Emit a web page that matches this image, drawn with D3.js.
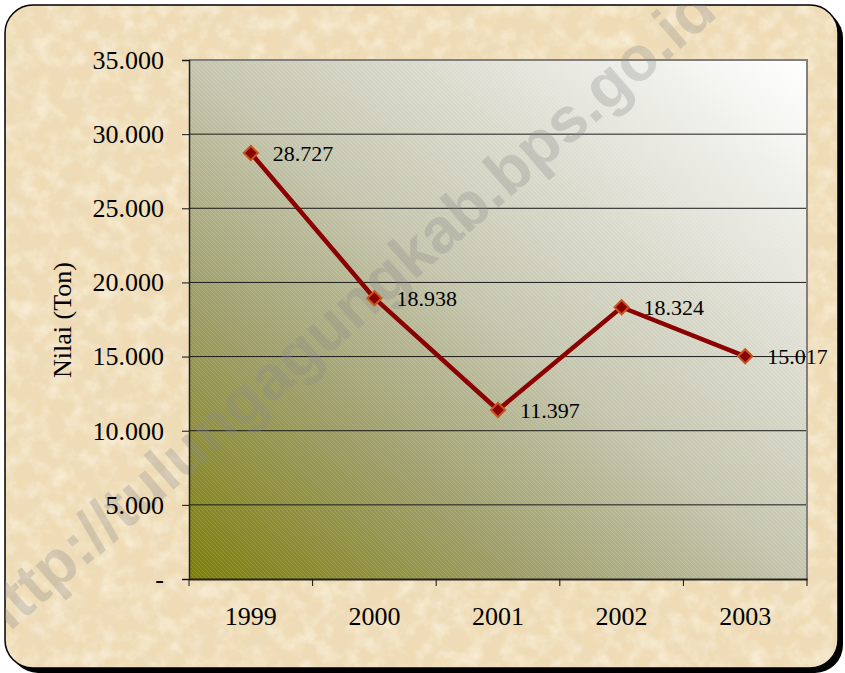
<!DOCTYPE html>
<html>
<head>
<meta charset="utf-8">
<script src="https://cdn.jsdelivr.net/npm/d3@7"></script>
<style>
  html, body { margin: 0; padding: 0; background: #fff; }
  svg { display: block; }
</style>
</head>
<body>
<div id="chart"></div>
<script>
// data
const years = ['1999', '2000', '2001', '2002', '2003'];
const values = [28727, 18938, 11397, 18324, 15017];
const yTicks = [0, 5000, 10000, 15000, 20000, 25000, 30000, 35000];
const yTitle = 'Nilai (Ton)';
const watermark = 'http://tulungagungkab.bps.go.id';

const W = 845, H = 673;
const plot = {left: 189, right: 807, top: 60, bottom: 579};
const serif = '"Liberation Serif", "Times New Roman", serif';

const svg = d3.select('#chart')
    .append('svg')
    .attr('width', W)
    .attr('height', H);

const defs = svg.append('defs');

// parchment texture
const paper = defs.append('filter').attr('id', 'paper')
    .attr('x', 0).attr('y', 0).attr('width', 1).attr('height', 1);
paper.append('feTurbulence')
    .attr('type', 'fractalNoise')
    .attr('baseFrequency', 0.035)
    .attr('numOctaves', 5)
    .attr('seed', 7);
paper.append('feColorMatrix')
    .attr('type', 'matrix')
    .attr('values', '0 0 0 0 0.84  0 0 0 0 0.70  0 0 0 0 0.48  1.4 0 0 0 -0.55');

const paper2 = defs.append('filter').attr('id', 'paper2')
    .attr('x', 0).attr('y', 0).attr('width', 1).attr('height', 1);
paper2.append('feTurbulence')
    .attr('type', 'fractalNoise')
    .attr('baseFrequency', 0.06)
    .attr('numOctaves', 4)
    .attr('seed', 21);
paper2.append('feColorMatrix')
    .attr('type', 'matrix')
    .attr('values', '0 0 0 0 0.99  0 0 0 0 0.95  0 0 0 0 0.84  1.2 0 0 0 -0.5');

const plotGrad = defs.append('linearGradient')
    .attr('id', 'plotGrad')
    .attr('x1', 0).attr('y1', 1).attr('x2', 1).attr('y2', 0);
[[0, '#7d7d06'], [0.28, '#9e9e68'], [0.5, '#c4c5ac'], [0.75, '#e2e2d8'], [1, '#ffffff']]
    .forEach(s => plotGrad.append('stop').attr('offset', s[0]).attr('stop-color', s[1]));

const hatch = defs.append('pattern')
    .attr('id', 'hatch')
    .attr('patternUnits', 'userSpaceOnUse')
    .attr('width', 4).attr('height', 4);
hatch.append('path')
    .attr('d', 'M-1,-1L5,5M-1,3L1,5M3,-1L5,1')
    .attr('stroke', '#fff')
    .attr('stroke-opacity', 0.16)
    .attr('stroke-width', 1);

defs.append('clipPath').attr('id', 'cardClip')
    .append('rect')
    .attr('x', 5).attr('y', 5)
    .attr('width', 833).attr('height', 663)
    .attr('rx', 28);

// card with shadow
svg.append('rect')
    .attr('x', 10).attr('y', 10)
    .attr('width', 833).attr('height', 663)
    .attr('rx', 28)
    .attr('fill', '#000');

const card = svg.append('g').attr('clip-path', 'url(#cardClip)');
card.append('rect')
    .attr('x', 5).attr('y', 5).attr('width', 833).attr('height', 663)
    .attr('fill', '#efdcb6');
card.append('rect')
    .attr('x', 5).attr('y', 5).attr('width', 833).attr('height', 663)
    .attr('filter', 'url(#paper)');
card.append('rect')
    .attr('x', 5).attr('y', 5).attr('width', 833).attr('height', 663)
    .attr('filter', 'url(#paper2)');

svg.append('rect')
    .attr('x', 5).attr('y', 5)
    .attr('width', 833).attr('height', 663)
    .attr('rx', 28)
    .attr('fill', 'none')
    .attr('stroke', '#000')
    .attr('stroke-width', 1.5);

// scales
const x = d3.scaleBand()
    .domain(years)
    .range([plot.left, plot.right]);

const y = d3.scaleLinear()
    .domain([0, 35000])
    .range([plot.bottom, plot.top]);

const fmt = d => d === 0 ? '-' : d3.format(',')(d).replace(/,/g, '.');

// plot area
svg.append('rect')
    .attr('x', plot.left).attr('y', plot.top)
    .attr('width', plot.right - plot.left)
    .attr('height', plot.bottom - plot.top)
    .attr('fill', 'url(#plotGrad)');
svg.append('rect')
    .attr('x', plot.left).attr('y', plot.top)
    .attr('width', plot.right - plot.left)
    .attr('height', plot.bottom - plot.top)
    .attr('fill', 'url(#hatch)');

// gridlines
svg.append('g')
    .selectAll('line')
    .data(yTicks.filter(d => d > 0 && d < 35000))
    .enter()
    .append('line')
    .attr('x1', plot.left).attr('x2', plot.right)
    .attr('y1', d => y(d)).attr('y2', d => y(d))
    .attr('stroke', '#1a1a1a')
    .attr('stroke-width', 1);

svg.append('path')
    .attr('d', `M${plot.left},${plot.top}H${plot.right}V${plot.bottom}`)
    .attr('fill', 'none')
    .attr('stroke', '#808080')
    .attr('stroke-width', 2);

// watermark, cut by the card edge like the original
svg.append('g')
    .attr('clip-path', 'url(#cardClip)')
    .append('text')
    .attr('transform', 'translate(342,314) rotate(-41)')
    .attr('text-anchor', 'middle')
    .attr('dy', '0.35em')
    .style('font-family', '"Liberation Sans", Arial, sans-serif')
    .style('font-weight', 'bold')
    .style('font-size', '63px')
    .attr('fill', '#8c8c8c')
    .attr('fill-opacity', 0.3)
    .text(watermark);

// y axis
const yAxis = svg.append('g')
    .attr('transform', `translate(${plot.left},0)`)
    .call(d3.axisLeft(y).tickValues(yTicks).tickFormat(fmt).tickSize(7).tickPadding(18));
yAxis.select('.domain').attr('stroke', '#222').attr('stroke-width', 1.5);
yAxis.selectAll('.tick line').attr('stroke', '#111');
yAxis.selectAll('text')
    .style('font-family', serif)
    .style('font-size', '26px')
    .attr('fill', '#000');

// x axis
const xAxis = svg.append('g')
    .attr('transform', `translate(0,${plot.bottom})`)
    .call(d3.axisBottom(x).tickSize(0).tickPadding(28));
xAxis.select('.domain').attr('stroke', '#222').attr('stroke-width', 2);
xAxis.selectAll('text')
    .style('font-family', serif)
    .style('font-size', '26px')
    .attr('fill', '#000');

const edges = years.map(d => x(d)).concat([x(years[years.length - 1]) + x.bandwidth()]);
xAxis.selectAll('.edge')
    .data(edges)
    .enter()
    .append('line')
    .attr('class', 'edge')
    .attr('x1', d => d).attr('x2', d => d)
    .attr('y1', 0).attr('y2', 7)
    .attr('stroke', '#111');

svg.append('text')
    .attr('transform', 'translate(62,320) rotate(-90)')
    .attr('text-anchor', 'middle')
    .attr('dy', '0.35em')
    .style('font-family', serif)
    .style('font-size', '26px')
    .attr('fill', '#000')
    .text(yTitle);

// line + markers
const points = years.map((d, i) => ({year: d, value: values[i]}));
const cx = d => x(d.year) + x.bandwidth() / 2;

svg.append('path')
    .datum(points)
    .attr('d', d3.line().x(cx).y(d => y(d.value)))
    .attr('fill', 'none')
    .attr('stroke', '#8b0000')
    .attr('stroke-width', 4.5)
    .attr('stroke-linejoin', 'round');

svg.append('g')
    .selectAll('path')
    .data(points)
    .enter()
    .append('path')
    .attr('transform', d => `translate(${cx(d)},${y(d.value)}) rotate(45)`)
    .attr('d', d3.symbol().type(d3.symbolSquare).size(100))
    .attr('fill', '#8b0000')
    .attr('stroke', '#c4561c')
    .attr('stroke-width', 2);

svg.append('g')
    .selectAll('text')
    .data(points)
    .enter()
    .append('text')
    .attr('x', d => cx(d) + 22)
    .attr('y', d => y(d.value))
    .attr('dy', '0.35em')
    .style('font-family', serif)
    .style('font-size', '22px')
    .attr('fill', '#000')
    .text(d => fmt(d.value));
</script>
</body>
</html>
